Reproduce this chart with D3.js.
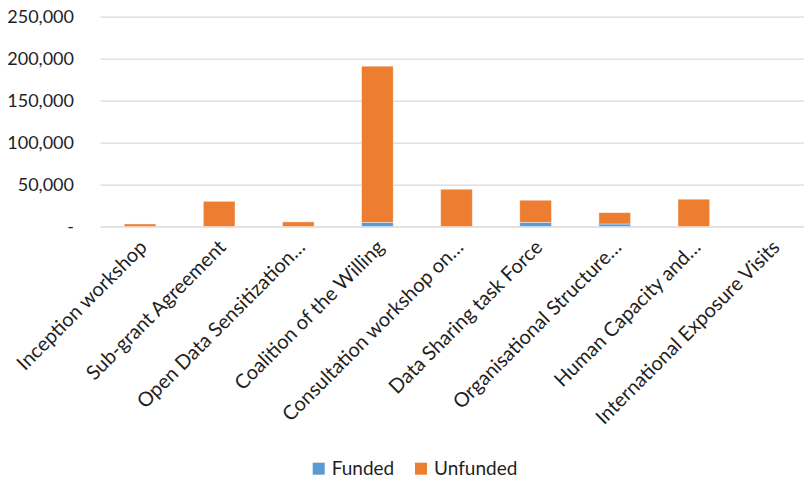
<!DOCTYPE html>
<html>
<head>
<meta charset="utf-8">
<script src="https://cdn.jsdelivr.net/npm/d3@7"></script>
<style>
  body { margin: 0; background: #fff; }
  svg { display: block; font-family: Lato, "Open Sans", sans-serif; }
</style>
</head>
<body>
<div id="chart"></div>
<script>
const categories = [
    "Inception workshop",
    "Sub-grant Agreement",
    "Open Data Sensitization…",
    "Coalition of the Willing",
    "Consultation workshop on…",
    "Data Sharing task Force",
    "Organisational Structure…",
    "Human Capacity and…",
    "International Exposure Visits"
];
const funded   = [0, 0, 0, 5000, 0, 5000, 3000, 0, 0];
const unfunded = [3000, 30000, 5500, 186000, 44400, 26300, 13500, 32500, 0];
const seriesNames = ["Funded", "Unfunded"];
const seriesColors = ["#5b9bd5", "#ed7d31"];
const yTicks = [0, 50000, 100000, 150000, 200000, 250000];

const W = 804, H = 481;
const plot = { left: 100.5, right: 812.5, top: 16.7, bottom: 226.5 };

const svg = d3.select("#chart").append("svg")
    .attr("width", W)
    .attr("height", H);

const x = d3.scaleBand()
    .domain(categories)
    .range([plot.left, plot.right])
    .paddingInner(0.6)
    .paddingOuter(0.3);

const y = d3.scaleLinear()
    .domain([0, 250000])
    .range([plot.bottom, plot.top]);

// gridlines
svg.append("g")
    .attr("transform", `translate(${plot.left},0)`)
    .call(d3.axisLeft(y)
        .tickValues(yTicks)
        .tickSize(-(plot.right - plot.left))
        .tickFormat(""))
    .call(g => g.select(".domain").remove())
    .selectAll(".tick line")
    .attr("stroke", "#d9d9d9")
    .attr("stroke-width", 1.3);

// y labels
const fmt = d3.format(",");
svg.append("g")
    .attr("transform", `translate(74,0)`)
    .call(d3.axisLeft(y)
        .tickValues(yTicks)
        .tickSize(0)
        .tickPadding(0)
        .tickFormat(d => d === 0 ? "-" : fmt(d)))
    .call(g => g.select(".domain").remove())
    .selectAll("text")
    .attr("fill", "#1f1f1f")
    .style("font-size", "18px")
    .style("font-family", "Lato, sans-serif");

// stacked bars
const rows = categories.map((c, i) => ({ cat: c, Funded: funded[i], Unfunded: unfunded[i] }));
const stack = d3.stack().keys(seriesNames)(rows);

svg.append("g")
    .selectAll("g")
    .data(stack)
    .join("g")
    .attr("fill", (d, i) => seriesColors[i])
    .selectAll("rect")
    .data(d => d.filter(s => s[1] - s[0] > 0))
    .join("rect")
    .attr("x", d => x(d.data.cat))
    .attr("width", x.bandwidth())
    .attr("y", d => y(d[1]))
    .attr("height", d => y(d[0]) - y(d[1]))
    .attr("stroke", "#fff")
    .attr("stroke-opacity", 0.5)
    .attr("stroke-width", 0.8);

// x labels
svg.append("g")
    .attr("transform", `translate(0,${plot.bottom})`)
    .call(d3.axisBottom(x).tickSize(0))
    .call(g => g.select(".domain").remove())
    .selectAll("text")
    .attr("x", 0)
    .attr("y", 0)
    .attr("dy", 0)
    .attr("text-anchor", "end")
    .attr("transform", "translate(8,22) rotate(-45)")
    .attr("fill", "#1f1f1f")
    .style("font-size", "20px")
    .style("font-family", "Lato, sans-serif");

// legend
const legendPos = [312.7, 415];
const legend = svg.append("g")
    .selectAll("g")
    .data(seriesNames)
    .join("g")
    .attr("transform", (d, i) => `translate(${legendPos[i]},462.7)`);

legend.append("rect")
    .attr("width", 12)
    .attr("height", 12)
    .attr("fill", (d, i) => seriesColors[i]);

legend.append("text")
    .attr("x", 19)
    .attr("y", 12.5)
    .attr("fill", "#1f1f1f")
    .style("font-size", "19px")
    .text(d => d);
</script>
</body>
</html>
